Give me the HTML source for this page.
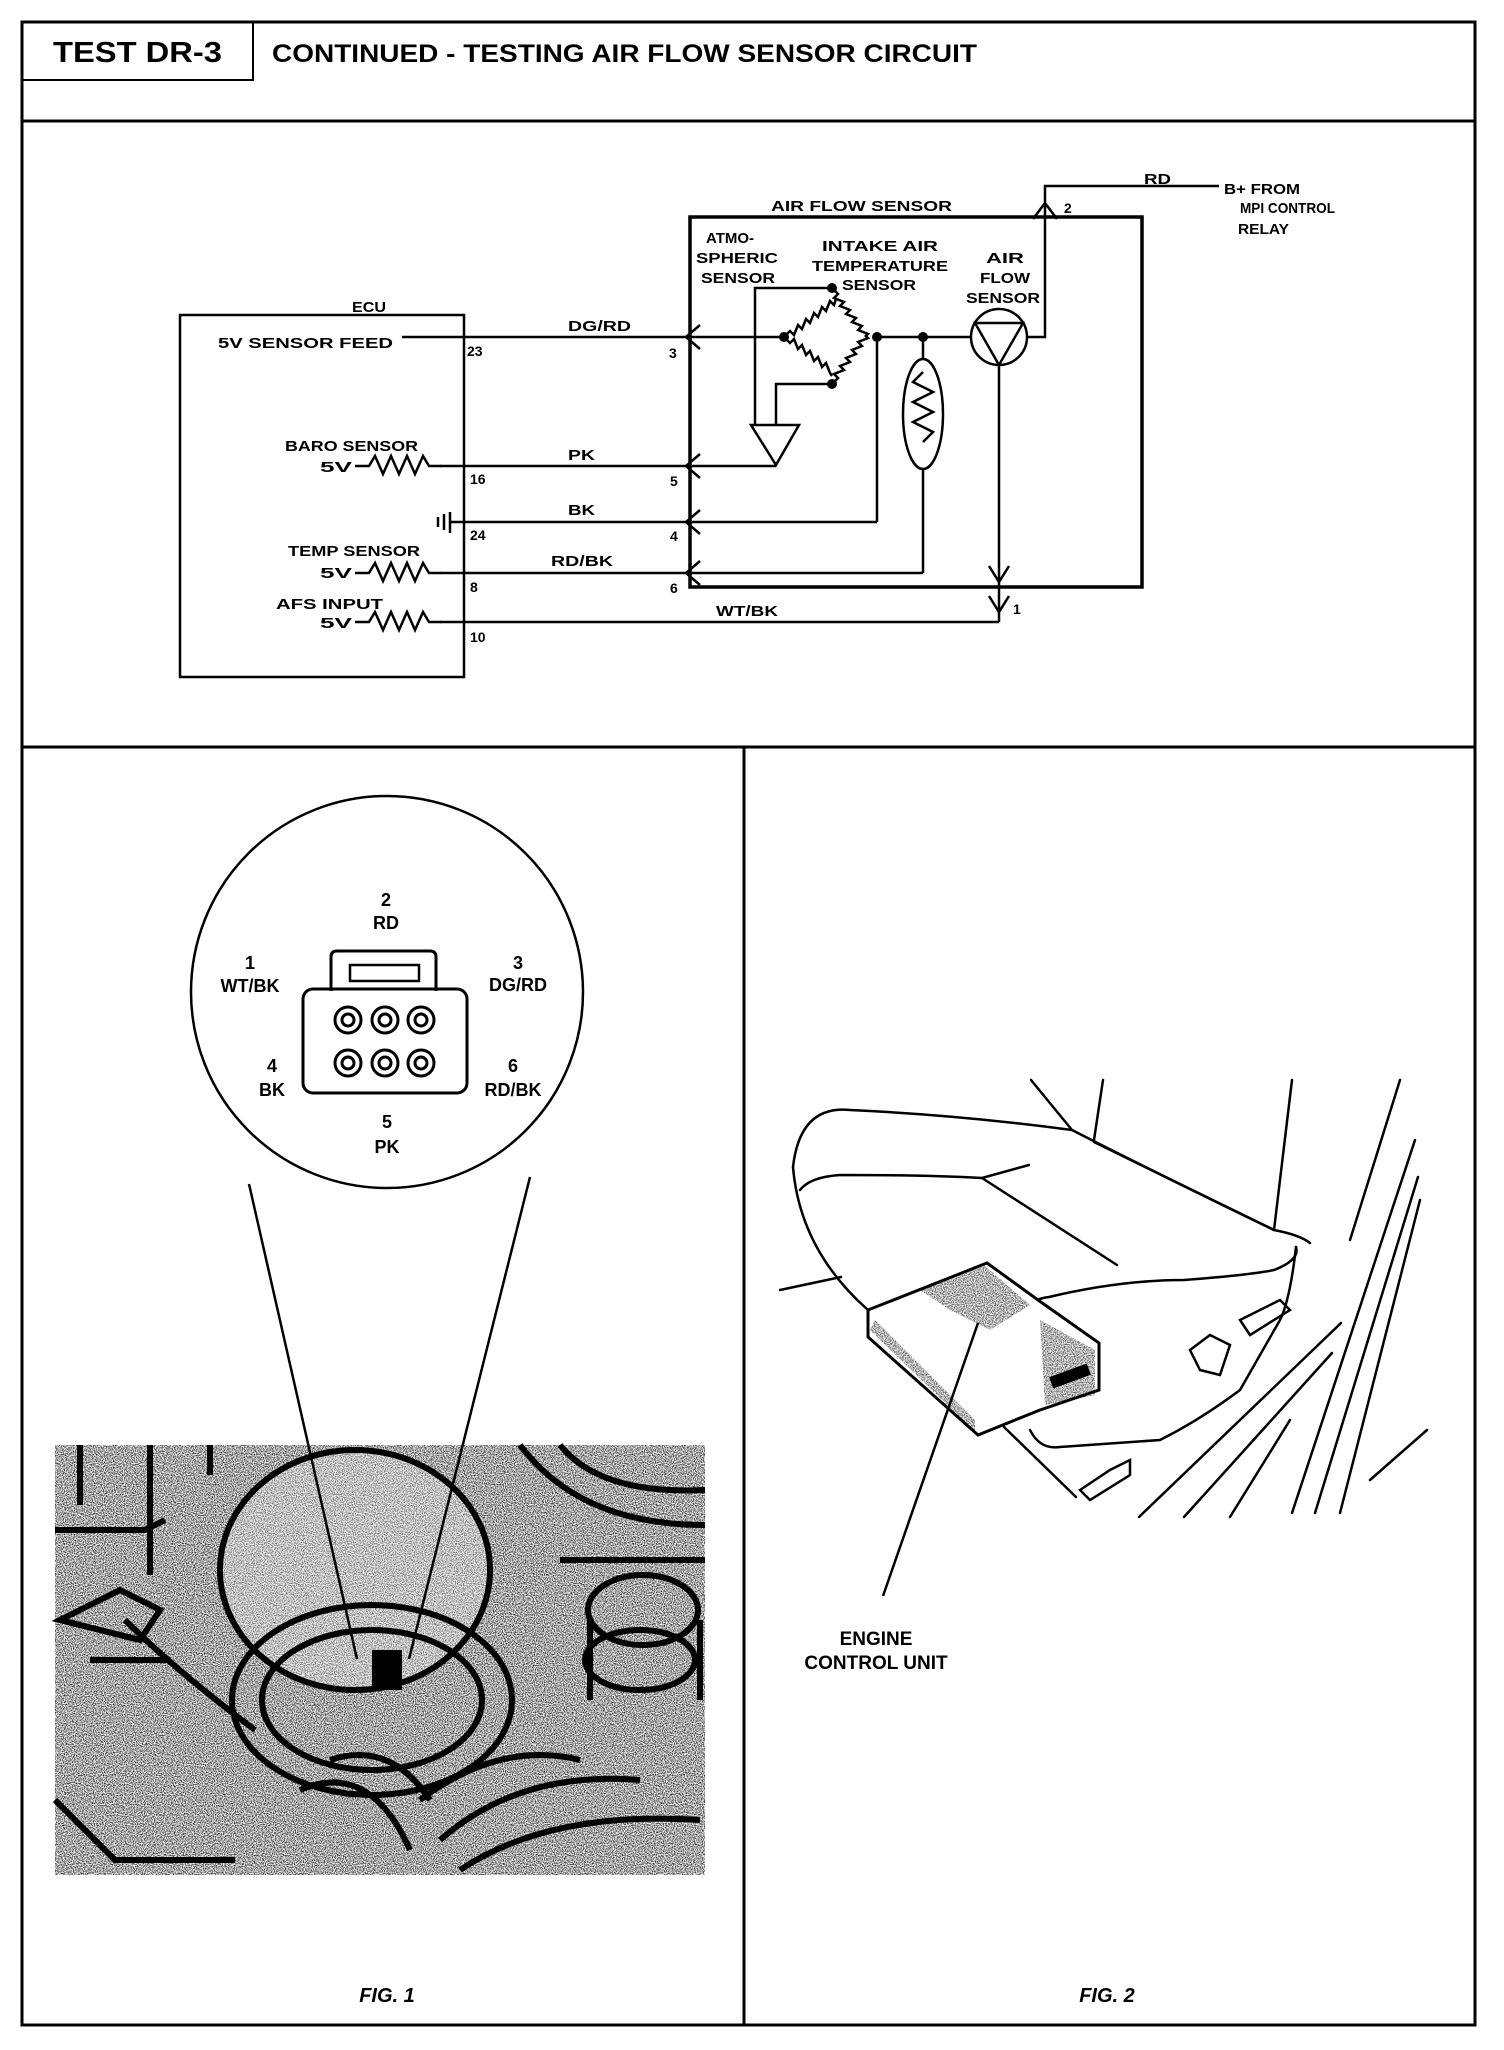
<!DOCTYPE html>
<html><head><meta charset="utf-8"><style>
html,body{margin:0;padding:0;background:#fff;}
svg{display:block;}
text{font-family:"Liberation Sans",sans-serif;font-weight:bold;fill:#000;}
</style></head><body>
<svg width="1504" height="2050" viewBox="0 0 1504 2050" xmlns="http://www.w3.org/2000/svg">
<defs>
<filter id="grain" x="0" y="0" width="100%" height="100%">
<feTurbulence type="fractalNoise" baseFrequency="0.9" numOctaves="1" seed="3" result="n"/>
<feColorMatrix in="n" type="matrix" values="0 0 0 0 0  0 0 0 0 0  0 0 0 0 0  0 0 0 -2.2 1.45" result="a"/>
<feComposite in="SourceGraphic" in2="a" operator="in"/>
</filter>
</defs>
<rect x="22" y="22" width="1453" height="2003" fill="none" stroke="#000" stroke-width="3"/>
<line x1="22" y1="121" x2="1475" y2="121" stroke="#000" stroke-width="3"/>
<polyline points="253,22 253,80 22,80" fill="none" stroke="#000" stroke-width="2"/>
<line x1="22" y1="747" x2="1475" y2="747" stroke="#000" stroke-width="3"/>
<line x1="744" y1="747" x2="744" y2="2025" stroke="#000" stroke-width="3"/>
<text x="53" y="62" font-size="29" textLength="169" lengthAdjust="spacingAndGlyphs">TEST DR-3</text>
<text x="272" y="62" font-size="25" textLength="705" lengthAdjust="spacingAndGlyphs">CONTINUED - TESTING AIR FLOW SENSOR CIRCUIT</text>

<g stroke="#000" stroke-width="2.5" fill="none">
<rect x="180" y="315" width="284" height="362"/>
<rect x="690" y="217" width="452" height="370" stroke-width="3.5"/>
<line x1="402" y1="337" x2="784" y2="337"/>
<line x1="877" y1="337" x2="971" y2="337"/>
<line x1="440" y1="466" x2="776" y2="466"/>
<line x1="450" y1="522" x2="877" y2="522"/>
<line x1="877" y1="337" x2="877" y2="522"/>
<line x1="440" y1="573" x2="923" y2="573"/>
<line x1="923" y1="469" x2="923" y2="573"/>
<line x1="923" y1="337" x2="923" y2="359"/>
<line x1="440" y1="622" x2="999" y2="622"/>
<line x1="999" y1="365" x2="999" y2="622"/>
<polyline points="1027,337 1045,337 1045,186 1219,186"/>
<path d="M784,337 l6,-6 4,4 4,-10 4,4 4,-10 4,4 4,-10 4,4 4,-10 4,4 4,-10 4,4 2,-6"/>
<path d="M832,288 l6,6 -4,4 10,4 -4,4 10,4 -4,4 10,4 -4,4 10,4 -4,4 10,4 -3,3"/>
<path d="M784,337 l6,6 4,-4 4,10 4,-4 4,10 4,-4 4,10 4,-4 4,10 4,-4 4,10 2,3"/>
<path d="M832,384 l6,-6 -4,-4 10,-4 -4,-4 10,-4 -4,-4 10,-4 -4,-4 10,-4 -4,-4 10,-4 -3,-3"/>
<polyline points="832,288 755,288 755,425"/>
<polyline points="832,384 776,384 776,425"/>
<polygon points="751,425 799,425 776,465"/>
<ellipse cx="923" cy="414" rx="20" ry="55"/>
<path d="M923,372 l-10,10 20,10 -20,10 20,10 -20,10 20,10 -10,10"/>
<circle cx="999" cy="337" r="28"/>
<polygon points="975,323 1023,323 999,365"/>
<line x1="450" y1="512" x2="450" y2="533"/>
<line x1="444" y1="514" x2="444" y2="530"/>
<line x1="438" y1="517" x2="438" y2="527"/>
<path d="M355,466 h14 l6,-10 8,18 8,-18 8,18 8,-18 8,18 8,-18 6,10 h12"/>
<path d="M355,573 h14 l6,-10 8,18 8,-18 8,18 8,-18 8,18 8,-18 6,10 h12"/>
<path d="M355,622 h14 l6,-10 8,18 8,-18 8,18 8,-18 8,18 8,-18 6,10 h12"/>
<path d="M700,325 l-14,12 14,12 M690,326 v22"/>
<path d="M700,454 l-14,12 14,12 M690,455 v22"/>
<path d="M700,510 l-14,12 14,12 M690,511 v22"/>
<path d="M700,561 l-14,12 14,12 M690,562 v22"/>
<path d="M1033,219 l12,-16 12,16"/>
<path d="M989,566 l10,16 10,-16"/>
<path d="M989,596 l10,16 10,-16"/>
</g>
<g fill="#000">
<circle cx="784" cy="337" r="5"/><circle cx="832" cy="288" r="5"/>
<circle cx="877" cy="337" r="5"/><circle cx="832" cy="384" r="5"/>
<circle cx="923" cy="337" r="5"/>
</g>
<g font-size="15">
<text x="352" y="312" textLength="34" lengthAdjust="spacingAndGlyphs">ECU</text>
<text x="218" y="348" textLength="175" lengthAdjust="spacingAndGlyphs">5V SENSOR FEED</text>
<text x="467" y="356" font-size="14">23</text>
<text x="568" y="331" textLength="63" lengthAdjust="spacingAndGlyphs">DG/RD</text>
<text x="669" y="358" font-size="14">3</text>
<text x="285" y="451" textLength="133" lengthAdjust="spacingAndGlyphs">BARO SENSOR</text>
<text x="320" y="472" textLength="32" lengthAdjust="spacingAndGlyphs">5V</text>
<text x="568" y="460" textLength="27" lengthAdjust="spacingAndGlyphs">PK</text>
<text x="470" y="484" font-size="14">16</text>
<text x="670" y="486" font-size="14">5</text>
<text x="568" y="515" textLength="27" lengthAdjust="spacingAndGlyphs">BK</text>
<text x="470" y="540" font-size="14">24</text>
<text x="670" y="541" font-size="14">4</text>
<text x="288" y="556" textLength="132" lengthAdjust="spacingAndGlyphs">TEMP SENSOR</text>
<text x="320" y="578" textLength="32" lengthAdjust="spacingAndGlyphs">5V</text>
<text x="551" y="566" textLength="62" lengthAdjust="spacingAndGlyphs">RD/BK</text>
<text x="470" y="592" font-size="14">8</text>
<text x="670" y="593" font-size="14">6</text>
<text x="276" y="609" textLength="107" lengthAdjust="spacingAndGlyphs">AFS INPUT</text>
<text x="320" y="628" textLength="32" lengthAdjust="spacingAndGlyphs">5V</text>
<text x="716" y="616" textLength="62" lengthAdjust="spacingAndGlyphs">WT/BK</text>
<text x="470" y="642" font-size="14">10</text>
<text x="1013" y="614" font-size="14">1</text>
<text x="771" y="211" textLength="181" lengthAdjust="spacingAndGlyphs">AIR FLOW SENSOR</text>
<text x="1064" y="213" font-size="14">2</text>
<text x="1144" y="184" textLength="27" lengthAdjust="spacingAndGlyphs">RD</text>
<text x="1224" y="194" textLength="76" lengthAdjust="spacingAndGlyphs">B+ FROM</text>
<text x="1240" y="213" textLength="95" lengthAdjust="spacingAndGlyphs">MPI CONTROL</text>
<text x="1238" y="234" textLength="51" lengthAdjust="spacingAndGlyphs">RELAY</text>
<text x="706" y="243" textLength="48" lengthAdjust="spacingAndGlyphs">ATMO-</text>
<text x="696" y="263" textLength="82" lengthAdjust="spacingAndGlyphs">SPHERIC</text>
<text x="701" y="283" textLength="74" lengthAdjust="spacingAndGlyphs">SENSOR</text>
<text x="822" y="251" textLength="116" lengthAdjust="spacingAndGlyphs">INTAKE AIR</text>
<text x="812" y="271" textLength="136" lengthAdjust="spacingAndGlyphs">TEMPERATURE</text>
<text x="842" y="290" textLength="74" lengthAdjust="spacingAndGlyphs">SENSOR</text>
<text x="986" y="263" textLength="38" lengthAdjust="spacingAndGlyphs">AIR</text>
<text x="980" y="283" textLength="50" lengthAdjust="spacingAndGlyphs">FLOW</text>
<text x="966" y="303" textLength="74" lengthAdjust="spacingAndGlyphs">SENSOR</text>
</g>

<circle cx="387" cy="992" r="196" fill="none" stroke="#000" stroke-width="2.5"/>
<g fill="none" stroke="#000" stroke-width="3">
<rect x="303" y="989" width="164" height="104" rx="10"/>
<path d="M331,991 v-34 q0,-6 6,-6 h93 q6,0 6,6 v34"/>
<rect x="350" y="965" width="69" height="16" stroke-width="2.5"/>
<circle cx="348" cy="1020" r="13"/><circle cx="385" cy="1020" r="13"/><circle cx="421" cy="1020" r="13"/>
<circle cx="348" cy="1063" r="13"/><circle cx="385" cy="1063" r="13"/><circle cx="421" cy="1063" r="13"/>
<circle cx="348" cy="1020" r="6"/><circle cx="385" cy="1020" r="6"/><circle cx="421" cy="1020" r="6"/>
<circle cx="348" cy="1063" r="6"/><circle cx="385" cy="1063" r="6"/><circle cx="421" cy="1063" r="6"/>
</g>
<g font-size="18" text-anchor="middle">
<text x="386" y="906">2</text><text x="386" y="929">RD</text>
<text x="250" y="969">1</text><text x="250" y="992">WT/BK</text>
<text x="518" y="969">3</text><text x="518" y="991">DG/RD</text>
<text x="272" y="1072">4</text><text x="272" y="1096">BK</text>
<text x="513" y="1072">6</text><text x="513" y="1096">RD/BK</text>
<text x="387" y="1128">5</text><text x="387" y="1153">PK</text>
</g>
<g>
<rect x="55" y="1445" width="650" height="430" fill="#fff"/>
<g filter="url(#grain)" fill="#000">
<rect x="55" y="1445" width="650" height="430"/>
</g>
<g fill="none" stroke="#000" stroke-width="6">
<ellipse cx="355" cy="1570" rx="135" ry="120" fill="#fff" fill-opacity="0.3"/>
<ellipse cx="372" cy="1700" rx="140" ry="95"/>
<ellipse cx="372" cy="1700" rx="110" ry="70"/>
<ellipse cx="643" cy="1610" rx="55" ry="35"/>
<ellipse cx="640" cy="1660" rx="55" ry="30"/>
<path d="M590,1620 v80 M700,1620 v80"/>
<path d="M330,1760 q60,-20 100,40 M300,1790 q70,-30 110,60 M420,1800 q80,-60 160,-40 M440,1840 q80,-70 200,-60 M460,1870 q90,-60 240,-50"/>
<path d="M55,1530 h90 l20,-10 M60,1620 l60,-30 40,20 -20,30 z M90,1660 h80 M255,1730 q-80,-60 -130,-110"/>
<path d="M520,1445 q60,80 185,80 M560,1445 q40,50 145,45 M560,1560 h145"/>
<path d="M80,1445 v60 M150,1445 v130 M210,1445 v30 M55,1800 l60,60 h120"/>
</g>
<rect x="372" y="1650" width="30" height="40" fill="#000"/>
</g>
<line x1="249" y1="1184" x2="357" y2="1659" stroke="#000" stroke-width="2.5"/>
<line x1="530" y1="1177" x2="409" y2="1659" stroke="#000" stroke-width="2.5"/>
<text x="387" y="2002" font-size="20" font-style="italic" text-anchor="middle">FIG. 1</text>

<g fill="none" stroke="#000" stroke-width="2.5" stroke-linecap="round">
<path d="M793,1167 Q800,1105 850,1110 Q960,1115 1072,1130 Q1150,1170 1274,1230 Q1300,1235 1310,1243"/>
<path d="M793,1167 Q800,1250 868,1310 Q930,1380 991,1343"/>
<path d="M800,1190 Q810,1177 840,1175 Q930,1175 982,1178 L1029,1165"/>
<line x1="982" y1="1178" x2="1117" y2="1265"/>
<line x1="1094" y1="1142" x2="1274" y2="1230"/>
<path d="M991,1343 Q1020,1300 1049,1297 Q1120,1280 1184,1280 Q1250,1275 1274,1270 Q1300,1260 1296,1247"/>
<path d="M1296,1247 Q1290,1300 1280,1320 L1240,1390 Q1200,1420 1160,1440 L1060,1447 Q1040,1450 1030,1430"/>
<line x1="780" y1="1290" x2="841" y2="1277"/>
<line x1="1400" y1="1080" x2="1350" y2="1240"/>
<line x1="1292" y1="1080" x2="1274" y2="1230"/>
<line x1="1103" y1="1080" x2="1094" y2="1140"/>
<line x1="1031" y1="1080" x2="1072" y2="1130"/>
<line x1="1415" y1="1140" x2="1292" y2="1513"/>
<line x1="1418" y1="1177" x2="1315" y2="1513"/>
<line x1="1420" y1="1200" x2="1340" y2="1513"/>
<line x1="1427" y1="1430" x2="1370" y2="1480"/>
<line x1="1004" y1="1427" x2="1076" y2="1497"/>
<line x1="1341" y1="1323" x2="1139" y2="1517"/>
<line x1="1332" y1="1353" x2="1184" y2="1517"/>
<line x1="1290" y1="1420" x2="1230" y2="1517"/>
<path d="M1080,1490 l30,-20 20,-10 v15 l-40,25 z"/>
<path d="M1190,1350 l20,-15 20,10 -10,30 -20,-5 z"/>
<path d="M1240,1320 l40,-20 10,10 -40,25 z"/>
</g>
<polygon points="868,1310 987,1263 1038,1300 1099,1343 1099,1390 1040,1410 978,1435 868,1337" fill="#fff" stroke="#000" stroke-width="3"/>
<g filter="url(#grain)" fill="#000" opacity="0.85">
<polygon points="920,1290 985,1266 1030,1305 990,1330 950,1310"/>
<polygon points="1040,1320 1095,1350 1095,1395 1045,1405"/>
<polygon points="875,1320 975,1420 975,1432 870,1330"/>
</g>
<rect x="1050" y="1370" width="40" height="12" fill="#000" transform="rotate(-20 1070 1376)"/>
<line x1="978" y1="1323" x2="883" y2="1596" stroke="#000" stroke-width="2.5"/>
<text x="876" y="1645" font-size="19" text-anchor="middle">ENGINE</text>
<text x="876" y="1669" font-size="19" text-anchor="middle">CONTROL UNIT</text>
<text x="1107" y="2002" font-size="20" font-style="italic" text-anchor="middle">FIG. 2</text>
</svg>
</body></html>
